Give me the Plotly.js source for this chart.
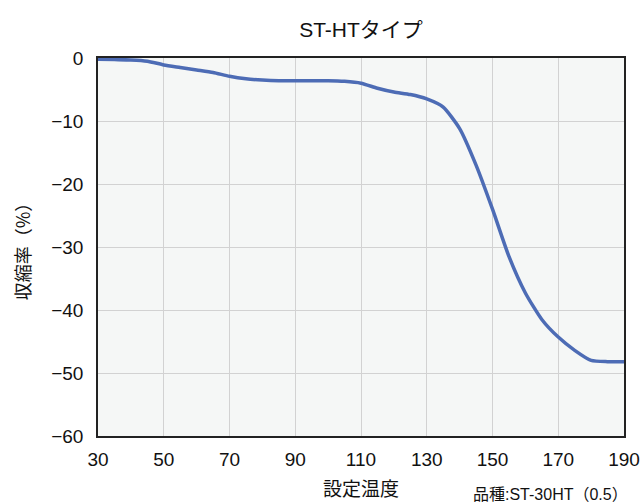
<!DOCTYPE html>
<html>
<head>
<meta charset="utf-8">
<script src="https://cdn.plot.ly/plotly-3.0.1.min.js"></script>
<style>html,body{margin:0;padding:0;background:#fff;}#chart{width:644px;height:504px;}</style>
</head>
<body>
<div id="chart"></div>
<script>
const temperatures = [30,35,40,45,50,55,60,65,70,75,80,85,90,95,100,105,110,115,120,125,130,135,140,145,150,155,160,165,170,175,180,185,190];
const shrinkage = [-0.2,-0.25,-0.3,-0.5,-1.1,-1.5,-1.9,-2.3,-2.9,-3.3,-3.5,-3.6,-3.6,-3.6,-3.6,-3.7,-4.0,-4.8,-5.4,-5.8,-6.5,-7.8,-11.2,-17.0,-24.0,-31.5,-37.3,-41.5,-44.3,-46.4,-48.0,-48.2,-48.2];
const xTicks = [30,50,70,90,110,130,150,170,190];
const yTicks = [0,-10,-20,-30,-40,-50,-60];
const chartTitle = 'ST-HTタイプ';
const xTitle = '設定温度';
const yTitle = '収縮率（%）';
const note = '品種:ST-30HT（0.5）';

const numFont = '"Liberation Sans", Arial, "Noto Sans CJK JP", sans-serif';
const jpFont = '"Noto Sans CJK JP", "Liberation Sans", sans-serif';

Plotly.newPlot('chart', [{
  x: temperatures, y: shrinkage, type: 'scatter', mode: 'lines',
  line: {color: '#4d6cb5', width: 3.5, shape: 'spline', smoothing: 0.6},
  hoverinfo: 'x+y'
}], {
  width: 644, height: 504,
  margin: {l: 98, r: 20, t: 58, b: 68},
  paper_bgcolor: '#ffffff', plot_bgcolor: '#f5f7f6',
  showlegend: false,
  title: {text: chartTitle, font: {family: numFont, size: 21, color: '#111'}, x: 0.5, xref: 'paper', xanchor: 'center', y: 1 - 30/504, yref: 'container', yanchor: 'middle'},
  xaxis: {
    range: [30, 190], tickvals: xTicks, ticks: 'outside', ticklen: 5, tickcolor: 'rgba(0,0,0,0)',
    showgrid: true, gridcolor: '#d2d2d2', gridwidth: 1, zeroline: false,
    showline: true, linecolor: '#222', linewidth: 1.5, mirror: true,
    tickfont: {family: numFont, size: 19, color: '#111'},
    title: {text: xTitle, font: {family: jpFont, size: 19, color: '#111'}, standoff: 14}
  },
  yaxis: {
    range: [-60, 0], tickvals: yTicks, ticks: 'outside', ticklen: 9, tickcolor: 'rgba(0,0,0,0)',
    showgrid: true, gridcolor: '#d2d2d2', gridwidth: 1, zeroline: false,
    showline: true, linecolor: '#222', linewidth: 1.5, mirror: true,
    tickfont: {family: numFont, size: 19, color: '#111'},
    title: {text: yTitle, font: {family: jpFont, size: 18, color: '#111'}, standoff: 16}
  },
  annotations: [{
    text: note, xref: 'paper', yref: 'paper', x: (630 - 98) / 526, y: -(494 - 436) / 378, xanchor: 'right', yanchor: 'middle',
    showarrow: false, font: {family: numFont, size: 16, color: '#111'}
  }]
}, {displayModeBar: false});
</script>
</body>
</html>
